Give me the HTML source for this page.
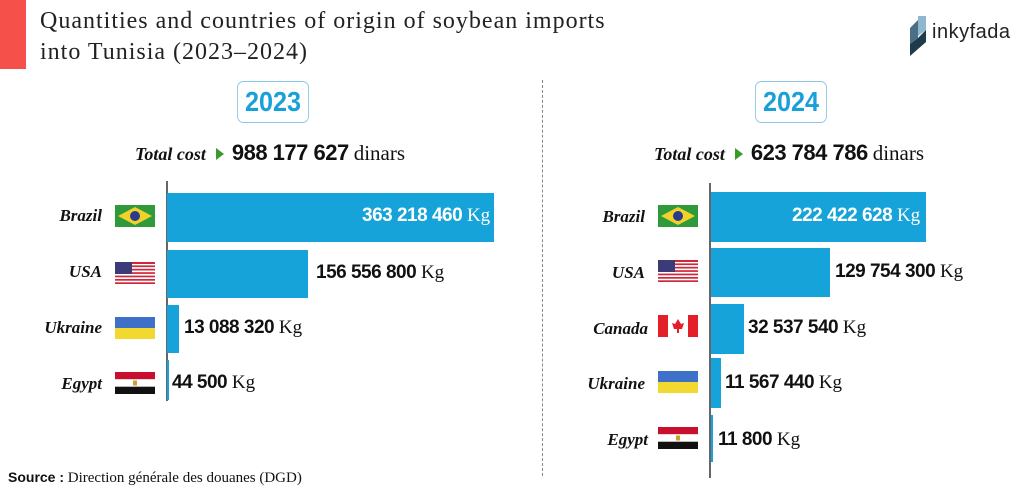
<!DOCTYPE html>
<html><head><meta charset="utf-8"><style>
*{margin:0;padding:0;box-sizing:border-box}
body{width:1024px;height:493px;background:#fff;position:relative;overflow:hidden;font-family:"Liberation Sans",sans-serif;color:#111}
.a{position:absolute}
.title{left:40px;top:6px;font-family:"Liberation Serif",serif;font-size:24px;letter-spacing:1px;line-height:31px;color:#222;white-space:nowrap}
.yr{border:1.5px solid #8cc9e6;border-radius:7px;width:80px;height:42px;color:#1aa0d8;font-weight:bold;font-size:28px;text-align:center;line-height:40px;transform:scaleX(0.9)}
.tc{font-size:18px;top:140px;white-space:nowrap}
.tc i{font-family:"Liberation Serif",serif;font-weight:bold;font-size:18px}
.tc b{font-size:22px;letter-spacing:-0.5px}
.tc span.d{font-family:"Liberation Serif",serif;font-size:21px}
.tri{display:inline-block;width:0;height:0;border-left:8px solid #3a9a2a;border-top:6px solid transparent;border-bottom:6px solid transparent;margin:0 8px 0 10px}
.bar{background:#16a3d9}
.ax{background:#666;width:1.5px}
.cn{font-family:"Liberation Serif",serif;font-style:italic;font-weight:bold;font-size:17px;text-align:right;width:100px}
.val{font-weight:bold;font-size:19px;white-space:nowrap;letter-spacing:-0.5px}
.val span{font-family:"Liberation Serif",serif;font-weight:normal;letter-spacing:0}
</style></head><body>
<div class="a" style="left:0;top:0;width:26px;height:69px;background:#f5504a"></div>
<div class="a title">Quantities and countries of origin of soybean imports<br>into Tunisia (2023–2024)</div>
<svg class="a" style="left:908px;top:16px" width="18" height="40"><polygon points="10,0 18,0 18,14 10,20" fill="#8fb8d0"/><polygon points="2,12 10,4 10,22 2,28" fill="#4b6f85"/><polygon points="2,28 10,22 18,14 18,26 2,40" fill="#1f3a4c"/></svg>
<div class="a" style="left:932px;top:21px;font-size:20px;color:#222;letter-spacing:0.5px">inkyfada</div>

<div class="a" style="left:542px;top:80px;height:396px;border-left:1.2px dashed #888"></div>

<div class="a yr" style="left:233px;top:81px">2023</div>
<div class="a yr" style="left:751px;top:81px">2024</div>

<div class="a tc" style="left:135px"><i>Total cost</i><span class="tri"></span><b>988 177 627</b> <span class="d">dinars</span></div>
<div class="a tc" style="left:654px"><i>Total cost</i><span class="tri"></span><b>623 784 786</b> <span class="d">dinars</span></div>

<!-- left -->
<div class="a ax" style="left:166px;top:181px;height:220px"></div>
<div class="a bar" style="left:167px;top:193px;width:327px;height:49px"></div>
<div class="a val" style="left:362px;top:205px;color:#fff">363 218 460 <span>Kg</span></div>
<div class="a bar" style="left:167px;top:250px;width:141px;height:48px"></div>
<div class="a val" style="left:316px;top:262px">156 556 800 <span>Kg</span></div>
<div class="a bar" style="left:167px;top:305px;width:12px;height:48px"></div>
<div class="a val" style="left:184px;top:317px">13 088 320 <span>Kg</span></div>
<div class="a bar" style="left:167px;top:360px;width:1.5px;height:40px"></div>
<div class="a val" style="left:172px;top:372px">44 500 <span>Kg</span></div>
<div class="a cn" style="left:2px;top:206px">Brazil</div>
<div class="a cn" style="left:2px;top:262px">USA</div>
<div class="a cn" style="left:2px;top:318px">Ukraine</div>
<div class="a cn" style="left:2px;top:374px">Egypt</div>

<!-- right -->
<div class="a ax" style="left:709px;top:183px;height:295px"></div>
<div class="a bar" style="left:711px;top:192px;width:215px;height:50px"></div>
<div class="a val" style="left:792px;top:205px;color:#fff">222 422 628 <span>Kg</span></div>
<div class="a bar" style="left:711px;top:248px;width:119px;height:49px"></div>
<div class="a val" style="left:835px;top:261px">129 754 300 <span>Kg</span></div>
<div class="a bar" style="left:711px;top:304px;width:33px;height:50px"></div>
<div class="a val" style="left:748px;top:317px">32 537 540 <span>Kg</span></div>
<div class="a bar" style="left:711px;top:358px;width:10px;height:50px"></div>
<div class="a val" style="left:725px;top:372px">11 567 440 <span>Kg</span></div>
<div class="a bar" style="left:711px;top:415px;width:1.5px;height:47px"></div>
<div class="a val" style="left:718px;top:429px">11 800 <span>Kg</span></div>
<div class="a cn" style="left:545px;top:207px">Brazil</div>
<div class="a cn" style="left:545px;top:263px">USA</div>
<div class="a cn" style="left:548px;top:319px">Canada</div>
<div class="a cn" style="left:545px;top:374px">Ukraine</div>
<div class="a cn" style="left:548px;top:430px">Egypt</div>

<!-- flags -->
<svg width="0" height="0" style="position:absolute"><defs>
<g id="br"><rect width="40" height="22" fill="#2f9a3a"/><polygon points="20,2 37,11 20,20 3,11" fill="#f2d12a"/><circle cx="20" cy="11" r="5" fill="#2a3a8c"/></g>
<g id="us"><rect width="40" height="22" fill="#fff"/><g fill="#d0283a"><rect y="0" width="40" height="2"/><rect y="3.4" width="40" height="1.7"/><rect y="6.8" width="40" height="1.7"/><rect y="10.2" width="40" height="1.7"/><rect y="13.6" width="40" height="1.7"/><rect y="17" width="40" height="1.7"/><rect y="20.3" width="40" height="1.7"/></g><rect width="17" height="12" fill="#3c3b7a"/></g>
<g id="ua"><rect width="40" height="11" fill="#3e6fc9"/><rect y="11" width="40" height="11" fill="#f3d830"/></g>
<g id="eg"><rect width="40" height="7.3" fill="#c8102e"/><rect y="7.3" width="40" height="7.4" fill="#fff"/><rect y="14.7" width="40" height="7.3" fill="#111"/><rect x="18" y="8.5" width="4" height="5" fill="#c8a030"/></g>
<g id="ca"><rect width="40" height="22" fill="#fff"/><rect width="10" height="22" fill="#e3202a"/><rect x="30" width="10" height="22" fill="#e3202a"/><polygon points="20,4 23,9 26,8 24,14 21,14 21,18 19,18 19,14 16,14 14,8 17,9" fill="#e3202a"/></g>
</defs></svg>
<svg class="a" style="left:115px;top:205px" width="40" height="22"><use href="#br"/></svg>
<svg class="a" style="left:115px;top:262px" width="40" height="22"><use href="#us"/></svg>
<svg class="a" style="left:115px;top:317px" width="40" height="22"><use href="#ua"/></svg>
<svg class="a" style="left:115px;top:372px" width="40" height="22"><use href="#eg"/></svg>
<svg class="a" style="left:658px;top:205px" width="40" height="22"><use href="#br"/></svg>
<svg class="a" style="left:658px;top:260px" width="40" height="22"><use href="#us"/></svg>
<svg class="a" style="left:658px;top:315px" width="40" height="22"><use href="#ca"/></svg>
<svg class="a" style="left:658px;top:371px" width="40" height="22"><use href="#ua"/></svg>
<svg class="a" style="left:658px;top:427px" width="40" height="22"><use href="#eg"/></svg>

<div class="a" style="left:8px;top:469px;font-size:15px;font-family:'Liberation Serif',serif;white-space:nowrap"><b style="font-family:'Liberation Sans',sans-serif;font-size:14px">Source :</b> Direction générale des douanes (DGD)</div>
</body></html>
